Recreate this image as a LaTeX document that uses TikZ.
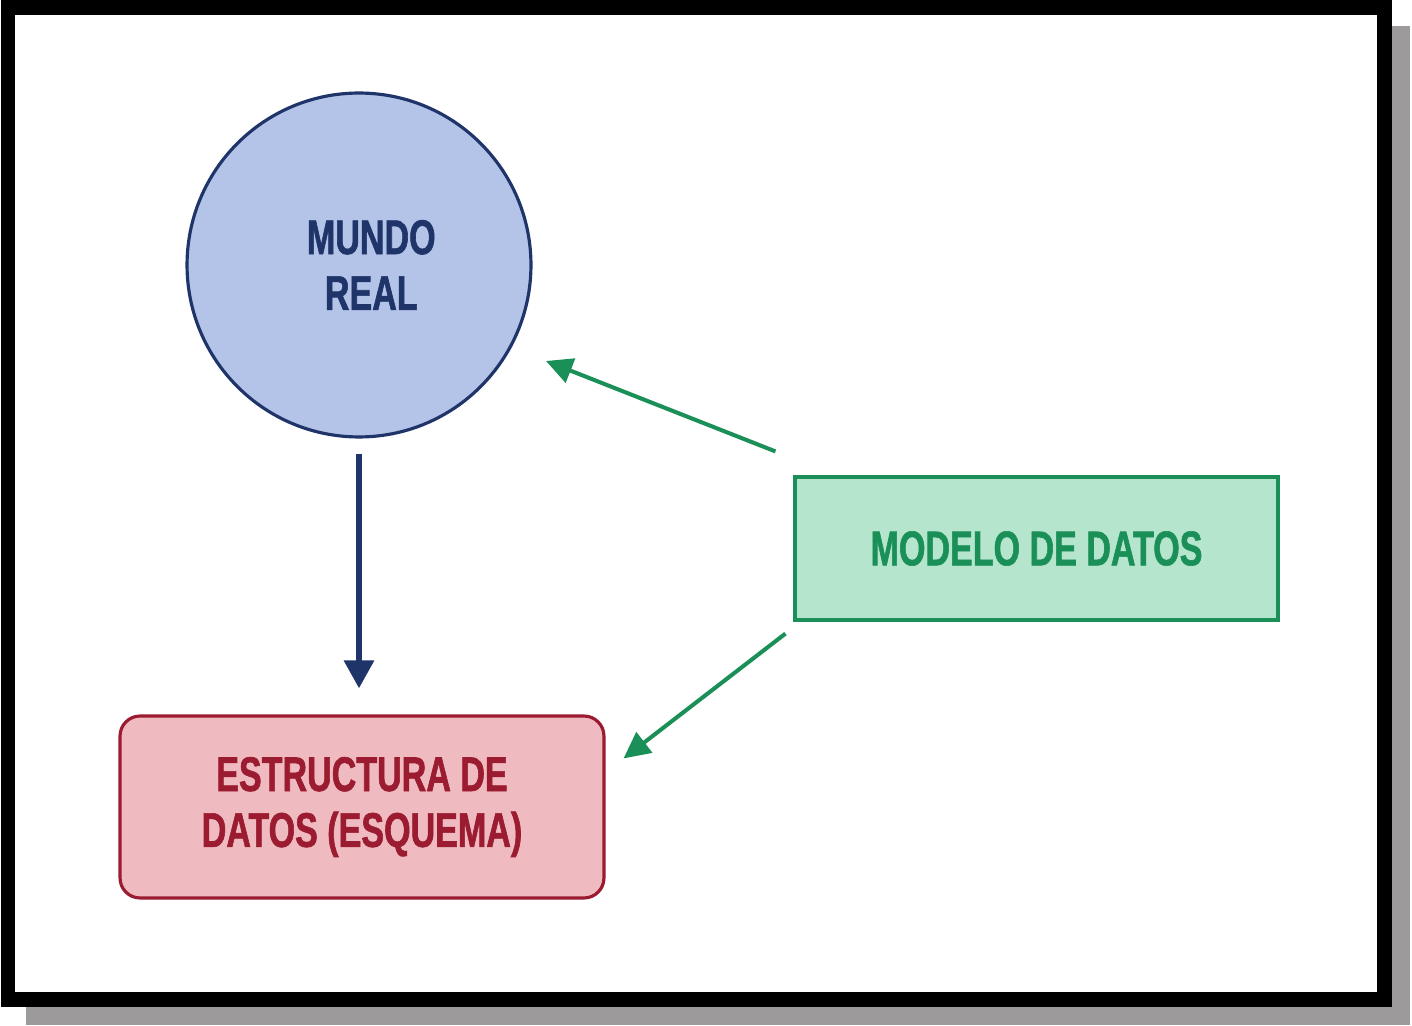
\documentclass[tikz,border=0pt]{standalone}
\usepackage{fontspec}
\setmainfont{Liberation Sans}[FakeStretch=0.7,BoldFeatures={FakeBold=1.2}]
\usetikzlibrary{arrows.meta,positioning,calc}
\definecolor{realblue}{HTML}{1F3468}
\definecolor{realfill}{HTML}{B4C3E8}
\definecolor{modelgreen}{HTML}{1A9058}
\definecolor{modelfill}{HTML}{B5E5CD}
\definecolor{schemared}{HTML}{9B1B30}
\definecolor{schemafill}{HTML}{F0BAC1}
\definecolor{shadowgray}{HTML}{9C9A9A}
\tikzset{
  bigtext/.style={font=\bfseries\fontsize{27.7}{31.8}\selectfont,align=center},
  realstate/.style={circle,draw=realblue,fill=realfill,line width=1.8pt,minimum size=6.88cm,inner sep=0pt,text=realblue,bigtext},
  modelbox/.style={rectangle,draw=modelgreen,fill=modelfill,line width=1.8pt,minimum width=9.66cm,minimum height=2.86cm,text=modelgreen,bigtext},
  schemabox/.style={rectangle,rounded corners=0.4cm,draw=schemared,fill=schemafill,line width=1.8pt,minimum width=9.68cm,minimum height=3.64cm,text=schemared,bigtext},
  bluearrow/.style={draw=realblue,line width=3.6pt,-{Triangle[length=16pt,width=16.5pt]}},
  greenarrow/.style={draw=modelgreen,line width=2.3pt,-{Triangle[length=15pt,width=14.5pt]}}
}

\begin{document}
\begin{tikzpicture}[x=0.02cm,y=-0.02cm]
  \useasboundingbox (0,0) rectangle (1412,1026);
  % frame with shadow
  \fill[shadowgray] (26,26) rectangle (1410,1025);
  \draw[line width=8.5pt,fill=white] (8,7.5) rectangle (1384.5,999.5);

  \node[realstate] (mundo) at (359,265) {\hspace*{14pt}MUNDO\\\hspace*{14pt}REAL};
  \node[modelbox] (modelo) at (1036.5,548.5) {MODELO DE DATOS};
  \node[schemabox] (esquema) at (362,807) {ESTRUCTURA DE\\DATOS (ESQUEMA)};

  \coordinate (m1) at ($(modelo.north west)+(-18,-24)$);
  \coordinate (t1) at ($(mundo.center)+(187,96)$);
  \coordinate (m2) at ($(modelo.south west)+(-8,12)$);
  \coordinate (t2) at ($(esquema.north east)+(18,44)$);

  \draw[bluearrow,shorten <=0.3cm,shorten >=0.52cm] (mundo.south) -- (mundo.south |- esquema.north);
  \draw[greenarrow] (m1) -- (t1);
  \draw[greenarrow] (m2) -- (t2);
\end{tikzpicture}
\end{document}
